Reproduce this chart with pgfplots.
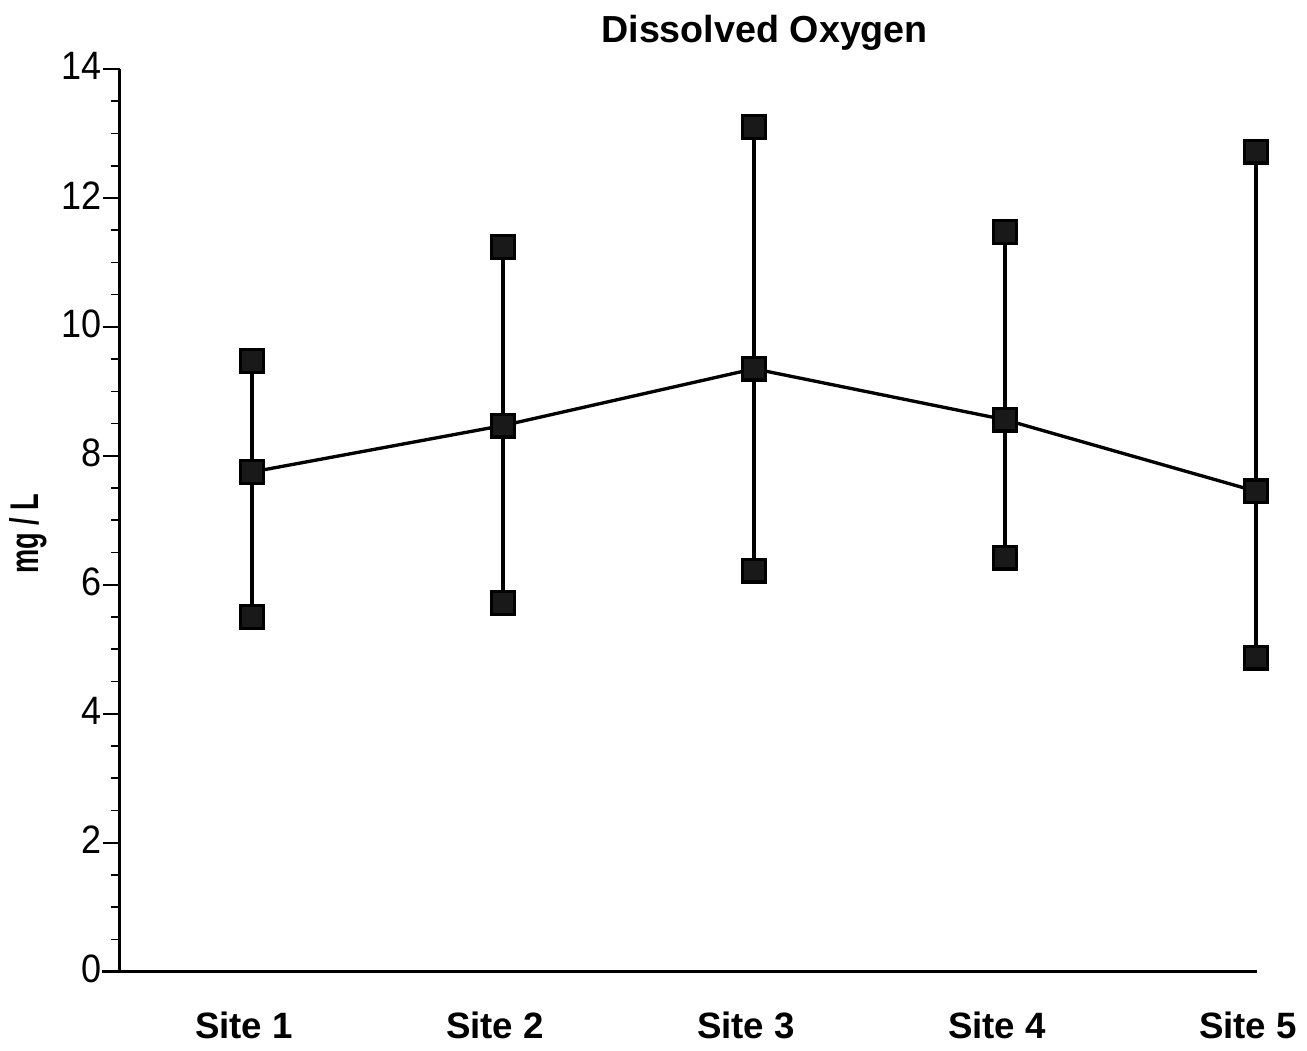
\documentclass[border=0pt]{standalone}
\usepackage{graphicx}
\usepackage{pgfplots}
\pgfplotsset{compat=1.18}
\usepackage{fontspec}
\setmainfont{Liberation Sans}

% Dissolved oxygen per site: minimum, mean, maximum (mg/L)
\begin{document}
\begin{tikzpicture}
\useasboundingbox (-36pt,-23.8pt) rectangle (356.1pt,291.5pt);
\begin{axis}[
  at={(0,0)}, anchor=south west,
  scale only axis,
  width=341.1pt, height=270.8pt,
  xmin=0.474, xmax=5.004,
  ymin=0, ymax=14,
  axis x line=bottom, axis y line=left,
  axis line style={-, line width=0.9pt},
  x axis line style={shorten <=-5.4pt},
  ytick={0,2,...,14},
  minor y tick num=3,
  ytick align=outside,
  major tick length=5pt,
  minor tick length=2.7pt,
  tick style={black, line width=0.5pt},
  xtick={1,2,3,4,5},
  xticklabels={Site 1,Site 2,Site 3,Site 4,Site 5},
  x tick style={draw=none},
  xticklabel style={font=\fontsize{11}{13}\selectfont\bfseries, yshift=-6pt, xshift=-2.4pt},
  yticklabel style={font=\fontsize{10.8}{12}\selectfont, xshift=3pt, yshift=0.8pt, yscale=1.1},
  /pgf/number format/assume math mode=true,
  clip=false,
]
% min-max ranges
\addplot[black, line width=1pt, mark=square*, mark size=3.4pt, mark options={fill=black!90}]
  coordinates {(1,5.50) (1,7.75) (1,9.47)};
\addplot[black, line width=1pt, mark=square*, mark size=3.4pt, mark options={fill=black!90}]
  coordinates {(2,5.72) (2,8.47) (2,11.24)};
\addplot[black, line width=1pt, mark=square*, mark size=3.4pt, mark options={fill=black!90}]
  coordinates {(3,6.22) (3,9.35) (3,13.10)};
\addplot[black, line width=1pt, mark=square*, mark size=3.4pt, mark options={fill=black!90}]
  coordinates {(4,6.42) (4,8.56) (4,11.47)};
\addplot[black, line width=1pt, mark=square*, mark size=3.4pt, mark options={fill=black!90}]
  coordinates {(5,4.87) (5,7.45) (5,12.72)};
% means
\addplot[black, line width=1pt, mark=square*, mark size=3.4pt, mark options={fill=black!90}]
  coordinates {(1,7.75) (2,8.47) (3,9.35) (4,8.56) (5,7.45)};

\node[font=\fontsize{11.3}{13}\selectfont\bfseries, anchor=base]
  at (rel axis cs:0.567,1) [yshift=7.8pt] {Dissolved Oxygen};
\node[font=\fontsize{12}{14}\selectfont\bfseries, rotate=90, anchor=center, yshift=27.6pt]
  at (rel axis cs:0,0.485) {\scalebox{0.68}[1]{mg / L}};
\end{axis}
\end{tikzpicture}
\end{document}
